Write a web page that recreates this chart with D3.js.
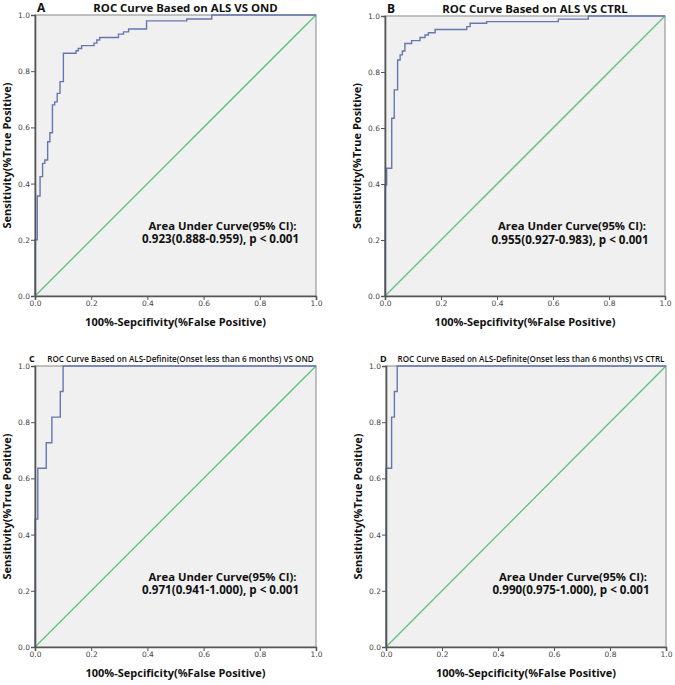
<!DOCTYPE html>
<html><head><meta charset="utf-8">
<script src="https://cdn.jsdelivr.net/npm/d3@7"></script>
<style>
body{margin:0;background:#fff;}
svg{display:block;}
</style></head>
<body>
<svg id="chart" width="675" height="685"></svg>
<script>
// ---- data ----
const panelLetters = ["A","B","C","D"];
const panelTitles = [
  "ROC Curve Based on ALS VS OND",
  "ROC Curve Based on ALS VS CTRL",
  "ROC Curve Based on ALS-Definite(Onset less than 6 months) VS OND",
  "ROC Curve Based on ALS-Definite(Onset less than 6 months) VS CTRL"
];
const xLabels = [
  "100%-Sepcifivity(%False Positive)",
  "100%-Sepcifivity(%False Positive)",
  "100%-Sepcificity(%False Positive)",
  "100%-Sepcificity(%False Positive)"
];
const yLabel = "Sensitivity(%True Positive)";
const aucLine1 = "Area Under Curve(95% CI):";
const aucLine2 = [
  "0.923(0.888-0.959), p < 0.001",
  "0.955(0.927-0.983), p < 0.001",
  "0.971(0.941-1.000), p < 0.001",
  "0.990(0.975-1.000), p < 0.001"
];
const tickValues = [0, 0.2, 0.4, 0.6, 0.8, 1.0];

// step ROC vertices: (false positive rate where rise happens, sensitivity reached)
const fprA = [0, 0, 0.008, 0.018, 0.027, 0.035, 0.045, 0.053, 0.062, 0.070, 0.079, 0.089, 0.101, 0.146, 0.154, 0.166, 0.210, 0.220, 0.230, 0.297, 0.315, 0.333, 0.397, 0.540, 0.629, 1.0];
const tprA = [0, 0.200, 0.356, 0.425, 0.472, 0.484, 0.549, 0.581, 0.680, 0.691, 0.721, 0.763, 0.864, 0.873, 0.881, 0.891, 0.900, 0.911, 0.920, 0.932, 0.940, 0.950, 0.979, 0.986, 1.0, 1.0];

const fprB = [0, 0, 0.006, 0.024, 0.033, 0.045, 0.054, 0.062, 0.071, 0.095, 0.125, 0.143, 0.155, 0.179, 0.292, 0.304, 0.363, 0.619, 0.726, 1.0];
const tprB = [0, 0.396, 0.456, 0.635, 0.736, 0.843, 0.861, 0.875, 0.902, 0.912, 0.923, 0.932, 0.940, 0.952, 0.962, 0.974, 0.980, 0.989, 1.0, 1.0];

const fprC = [0, 0, 0.010, 0.040, 0.060, 0.090, 0.100, 1.0];
const tprC = [0, 0.455, 0.636, 0.727, 0.818, 0.909, 1.0, 1.0];

const fprD = [0, 0, 0.020, 0.030, 0.040, 1.0];
const tprD = [0, 0.636, 0.818, 0.909, 1.0, 1.0];

const fprSets = [fprA, fprB, fprC, fprD];
const tprSets = [tprA, tprB, tprC, tprD];

// ---- layout ----
const boxes = [
  {x0: 35, x1: 316, y0: 15, y1: 296},
  {x0: 385, x1: 665, y0: 16, y1: 296},
  {x0: 35, x1: 316, y0: 366, y1: 647},
  {x0: 386, x1: 666, y0: 366, y1: 647}
];

const svg = d3.select("#chart");
const bold = "'Open Sans', 'DejaVu Sans', sans-serif";

boxes.forEach((b, i) => {
  const x = d3.scaleLinear().domain([0, 1]).range([b.x0, b.x1]);
  const y = d3.scaleLinear().domain([0, 1]).range([b.y1, b.y0]);
  const g = svg.append("g");

  g.append("rect").attr("x", b.x0).attr("y", b.y0)
    .attr("width", b.x1 - b.x0).attr("height", b.y1 - b.y0)
    .attr("fill", "#f0f0f0").attr("stroke", "#9a9a9a").attr("stroke-width", 1.2);

  // diagonal reference line
  g.append("line")
    .attr("x1", x(0)).attr("y1", y(0)).attr("x2", x(1)).attr("y2", y(1))
    .attr("stroke", "#5fbf7d").attr("stroke-width", 1.3);

  // ROC curve
  const pts = fprSets[i].map((f, k) => [f, tprSets[i][k]]);
  const line = d3.line().x(d => x(d[0])).y(d => y(d[1])).curve(d3.curveStepAfter);
  g.append("path").datum(pts).attr("d", line)
    .attr("fill", "none").attr("stroke", "#6677b0").attr("stroke-width", 1.4);

  // axes
  const xAxis = d3.axisBottom(x).tickValues(tickValues).tickFormat(d3.format(".1f")).tickSize(4).tickPadding(1);
  const yAxis = d3.axisLeft(y).tickValues(tickValues).tickFormat(d3.format(".1f")).tickSize(4).tickPadding(1);
  const gx = g.append("g").attr("transform", `translate(0,${b.y1})`).call(xAxis);
  const gy = g.append("g").attr("transform", `translate(${b.x0},0)`).call(yAxis);
  [gx, gy].forEach(a => {
    a.select(".domain").attr("stroke", "#555").attr("stroke-width", 1.6);
    a.selectAll(".tick line").attr("stroke", "#555");
    a.selectAll(".tick text").attr("fill", "#444")
      .style("font-family", "'DejaVu Sans', sans-serif").style("font-size", "7.5px");
  });

  // panel letter and title
  const small = i >= 2;
  g.append("text").attr("x", small ? b.x0 - 6 : b.x0 + 2).attr("y", small ? b.y0 - 4 : b.y0 - 3)
    .text(panelLetters[i])
    .style("font-family", bold).style("font-weight", "bold")
    .style("font-size", small ? "9px" : "12px").attr("fill", "#111");
  g.append("text").attr("x", small ? (b.x0 + b.x1) / 2 + 5 : (b.x0 + b.x1) / 2 + 10)
    .attr("y", small ? b.y0 - 4 : b.y0 - 3)
    .attr("text-anchor", "middle").text(panelTitles[i])
    .style("font-family", bold).style("font-weight", small ? "600" : "bold")
    .style("font-size", small ? "8.1px" : "11.4px").attr("fill", "#111");

  // axis labels
  g.append("text").attr("x", (b.x0 + b.x1) / 2).attr("y", b.y1 + 30)
    .attr("text-anchor", "middle").text(xLabels[i])
    .style("font-family", bold).style("font-weight", "bold").style("font-size", "11px").attr("fill", "#111");
  const yc = (b.y0 + b.y1) / 2;
  g.append("text").attr("transform", `translate(${b.x0 - 24},${yc}) rotate(-90)`)
    .attr("text-anchor", "middle").text(yLabel)
    .style("font-family", bold).style("font-weight", "bold").style("font-size", "11px").attr("fill", "#111");

  // AUC annotation
  const cx = (b.x0 + b.x1) / 2 + 45;
  g.append("text").attr("x", cx + 2).attr("y", y(0.236))
    .attr("text-anchor", "middle").text(aucLine1)
    .style("font-family", bold).style("font-weight", "bold").style("font-size", "11.3px").attr("fill", "#111");
  g.append("text").attr("x", cx).attr("y", y(0.187))
    .attr("text-anchor", "middle").text(aucLine2[i])
    .style("font-family", bold).style("font-weight", "bold").style("font-size", "11.6px").attr("fill", "#111");
});
</script>
</body></html>
